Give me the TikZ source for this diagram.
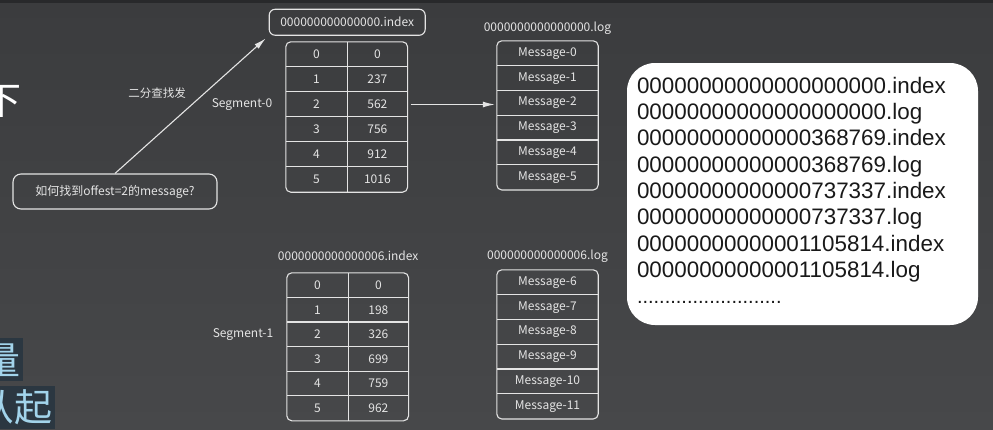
\documentclass[tikz,border=0pt]{standalone}
\usepackage{fontspec}
\setmainfont{Noto Sans CJK SC}
\newfontfamily\listfont{Liberation Sans}
\usetikzlibrary{positioning,arrows.meta}
\definecolor{bgtop}{RGB}{59,60,62}
\definecolor{bgbottom}{RGB}{71,72,74}
\definecolor{bgstrip}{RGB}{40,41,43}
\definecolor{linegray}{RGB}{228,228,228}
\definecolor{hlbox}{RGB}{43,55,65}
\definecolor{hltext}{RGB}{162,212,235}

\begin{document}
\begin{tikzpicture}[x=1pt, y=1pt, auto,
    every node/.style={text=linegray, font=\fontsize{12}{14}\selectfont},
    cell/.style={inner sep=0pt, minimum width=#1, minimum height=25pt},
    logcell/.style={inner sep=0pt, minimum width=101pt, minimum height=24.8pt},
    tbl/.style={draw=linegray, line width=1.1pt, rounded corners=5pt},
    grid/.style={draw=linegray, line width=1.1pt},
    namebox/.style={draw=linegray, line width=1.1pt, rounded corners=6pt, minimum width=156pt, minimum height=26pt, inner sep=0pt},
    qbox/.style={draw=linegray, line width=1.1pt, rounded corners=8pt, minimum width=204pt, minimum height=35pt},
    arrow/.style={draw=linegray, line width=1.1pt, -{Latex[length=12pt,width=6pt]}},
    bigchar/.style={inner sep=0pt, anchor=east, font=\fontsize{38}{40}\selectfont}]
    \clip (0,0) rectangle (993,-429);
    \shade[top color=bgtop, bottom color=bgbottom] (0,0) rectangle (993,-429);
    \fill[bgstrip] (0,0) rectangle (993,-3);

    % slide text cut off at the left edge
    \node[bigchar, text=white] (cutA) at (22,-101) {下};
    \fill[hlbox] (0,-338) rectangle (23,-381);
    \fill[hlbox] (0,-386) rectangle (55,-429);
    \node[bigchar, text=hltext] (cutB) at (21,-360) {量};
    \node[bigchar, text=hltext] (cutC) at (53,-407) {从起};

    % segment 0
    \foreach \k/\v in {0/0,1/237,2/562,3/756,4/912,5/1016} {
        \node[cell=61pt] (i0-\k-k) at (316.5,{-54.5-25*\k}) {\k};
        \node[cell=60pt, right=0pt of i0-\k-k] (i0-\k-v) {\v};
    }
    \draw[tbl] (i0-0-k.north west) rectangle (i0-5-v.south east);
    \foreach \k in {1,...,5}
        \draw[grid] (i0-\k-k.north west) -- (i0-\k-v.north east);
    \draw[grid] (i0-0-k.north east) -- (i0-5-k.south east);
    \node[namebox, above=6pt of i0-0-k.north east] (i0-name) {000000000000000.index};
    \node[left=10pt of i0-2-k] (seg0) {Segment-0};

    \foreach \k in {0,...,5}
        \node[logcell] (l0-\k) at (547.5,{-53.4-24.8*\k}) {Message-\k};
    \draw[tbl] (l0-0.north west) rectangle (l0-5.south east);
    \foreach \k in {1,...,5}
        \draw[grid] (l0-\k.north west) -- (l0-\k.north east);
    \node[above=3pt of l0-0] (l0-name) {0000000000000000.log};

    \draw[arrow, shorten <=3pt, shorten >=2pt] (i0-2-v.east) -- (i0-2-v.east -| l0-2.west);

    % segment 1
    \foreach \k/\v in {0/0,1/198,2/326,3/699,4/759,5/962} {
        \node[cell=61pt, minimum height=24.6pt] (i1-\k-k) at (317.5,{-285.3-24.6*\k}) {\k};
        \node[cell=60pt, minimum height=24.6pt, right=0pt of i1-\k-k] (i1-\k-v) {\v};
    }
    \draw[tbl] (i1-0-k.north west) rectangle (i1-5-v.south east);
    \foreach \k in {1,...,5}
        \draw[grid] (i1-\k-k.north west) -- (i1-\k-v.north east);
    \draw[grid] (i1-0-k.north east) -- (i1-5-k.south east);
    \node[above=9pt of i1-0-k.north east] (i1-name) {0000000000000006.index};
    \node[left=10pt of i1-2-k] (seg1) {Segment-1};

    \foreach \k [evaluate=\k as \m using int(\k+6)] in {0,...,5}
        \node[logcell] (l1-\k) at (547.5,{-282.4-24.8*\k}) {Message-\m};
    \draw[tbl] (l1-0.north west) rectangle (l1-5.south east);
    \foreach \k in {1,...,5}
        \draw[grid] (l1-\k.north west) -- (l1-\k.north east);
    \node[above=4pt of l1-0] (l1-name) {000000000000006.log};

    % question
    \node[qbox] (ask) at (115,-191.5) {如何找到offest=2的message?};
    \draw[arrow, shorten >=4pt] (ask.north) -- (i0-name.south west);
    \node[font=\fontsize{11.5}{13}\selectfont] (hint) at (157,-93) {二分查找发};

    % file list
    \node[fill=white, rounded corners=28pt, minimum width=351pt, minimum height=262pt] (files) at (802.5,-194) {};
    \node[anchor=north west, inner sep=0pt, align=left, text=black!90, font=\listfont\fontsize{22.4}{26.3}\selectfont]
        (names) at ([shift={(10pt,-14pt)}]files.north west)
        {00000000000000000000.index\\
         00000000000000000000.log\\
         00000000000000368769.index\\
         00000000000000368769.log\\
         00000000000000737337.index\\
         00000000000000737337.log\\
         00000000000001105814.index\\
         00000000000001105814.log\\
         {\fontsize{20}{26.3}\selectfont ..........................}};
\end{tikzpicture}
\end{document}
